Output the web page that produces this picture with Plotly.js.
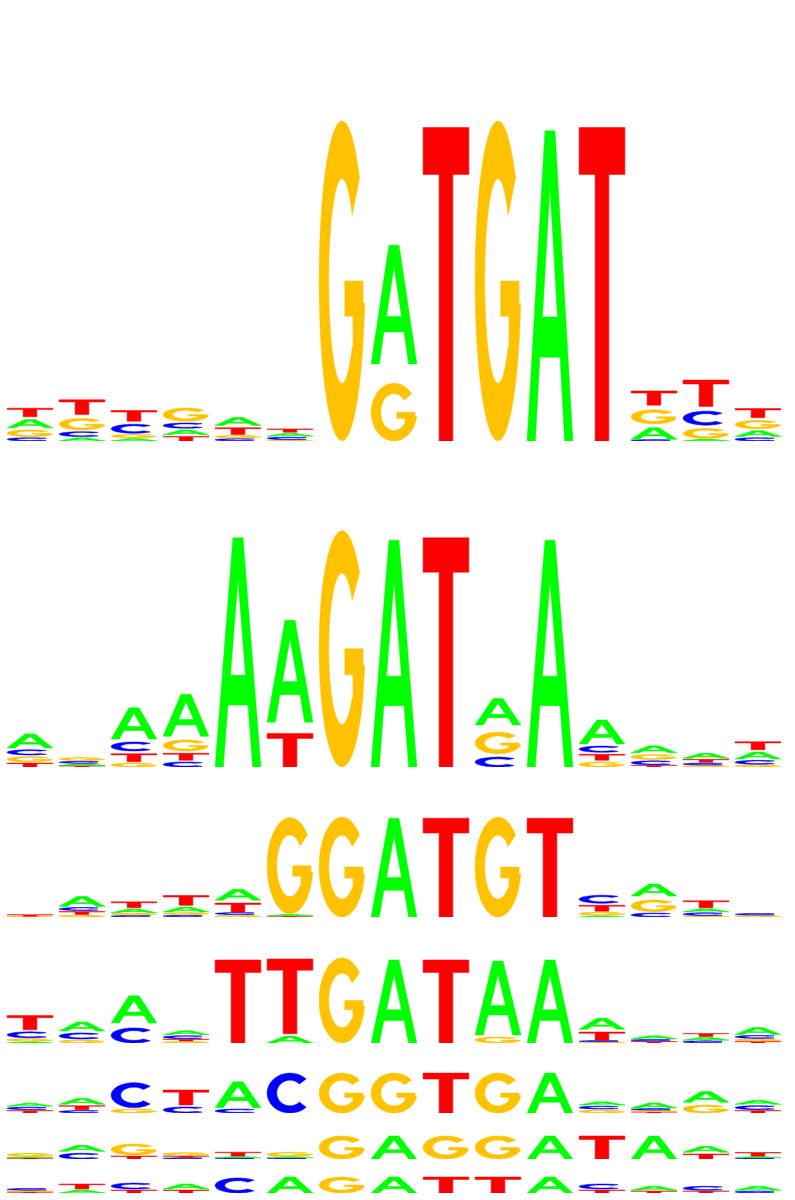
<!DOCTYPE html>
<html>
<head>
<meta charset="utf-8">
<script src="https://cdn.plot.ly/plotly-3.0.1.min.js"></script>
<style>
  html, body { margin: 0; padding: 0; background: #ffffff; }
  #logo { width: 795px; height: 1200px; }
</style>
</head>
<body>
<div id="logo"></div>
<script>
// motif positions (15 columns per row)
const positions = [1, 2, 3, 4, 5, 6, 7, 8, 9, 10, 11, 12, 13, 14, 15];
const letters = ['A', 'C', 'G', 'T'];

// visible letter heights in bits, one small table per motif row
const row1 = {
    A: [0.05, 0.02, 0.015, 0.03, 0.048, 0.018, 0, 0.72, 0, 0, 1.88, 0, 0.07, 0.012, 0.036],
    C: [0.02, 0.03, 0.055, 0.032, 0.014, 0.016, 0, 0, 0, 0, 0, 0, 0.008, 0.085, 0.02],
    G: [0.04, 0.07, 0.02, 0.08, 0.015, 0.006, 1.94, 0.35, 0, 1.94, 0, 0, 0.085, 0.06, 0.05],
    T: [0.052, 0.09, 0.065, 0.028, 0.042, 0.02, 0, 0, 1.9, 0, 0, 1.9, 0.086, 0.16, 0.055]
};
const row2 = {
    A: [0.117, 0.013, 0.26, 0.35, 1.91, 0.85, 0, 1.89, 0, 0.22, 1.89, 0.2, 0.058, 0.042, 0.058],
    C: [0.044, 0.017, 0.075, 0.042, 0, 0, 0, 0, 0, 0.083, 0, 0.052, 0.033, 0.017, 0.033],
    G: [0.042, 0.025, 0.033, 0.092, 0, 0, 1.97, 0, 0, 0.18, 0, 0.042, 0.042, 0.012, 0.017],
    T: [0.033, 0.01, 0.067, 0.058, 0, 0.28, 0, 0, 1.91, 0, 0, 0.05, 0.014, 0.025, 0.067]
};
const row3 = {
    A: [0, 0.19, 0.07, 0.095, 0.21, 0.03, 0, 1.9, 0, 0, 0, 0.025, 0.23, 0.058, 0],
    C: [0, 0.06, 0.03, 0.035, 0.038, 0, 0, 0, 0, 0, 0, 0.155, 0.077, 0.055, 0.03],
    G: [0.01, 0.035, 0.032, 0.038, 0.035, 1.85, 1.92, 0, 0, 1.92, 0, 0.058, 0.225, 0.02, 0.028],
    T: [0.03, 0.058, 0.115, 0.19, 0.17, 0.015, 0, 0, 1.9, 0, 1.9, 0.115, 0, 0.135, 0]
};
const row4 = {
    A: [0.03, 0.21, 0.63, 0.093, 0, 0.16, 0, 1.93, 0, 1.72, 1.93, 0.26, 0.07, 0.065, 0.16],
    C: [0.14, 0.14, 0.35, 0.07, 0, 0, 0, 0, 0, 0, 0, 0.025, 0.037, 0.05, 0.07],
    G: [0.06, 0.07, 0, 0.035, 0, 0, 1.98, 0, 0, 0.14, 0, 0.023, 0, 0, 0.045],
    T: [0.33, 0, 0, 0.04, 1.93, 1.74, 0, 0, 1.93, 0, 0, 0.19, 0.035, 0.07, 0.035]
};
const row5 = {
    A: [0.14, 0.29, 0, 0, 1.24, 0, 0, 0, 0, 0, 1.9, 0.15, 0.24, 0.52, 0.195],
    C: [0.125, 0.12, 1.19, 0.29, 0.19, 1.9, 0, 0, 0, 0, 0, 0.145, 0.07, 0, 0.19],
    G: [0, 0, 0.19, 0, 0, 0, 1.9, 1.9, 0, 1.9, 0, 0.14, 0.055, 0.38, 0],
    T: [0.12, 0.19, 0, 0.71, 0, 0, 0, 0, 1.9, 0, 0, 0, 0.05, 0, 0.12]
};
const row6 = {
    A: [0.085, 0.5, 0, 0, 0.1, 0.09, 0, 1.92, 0, 0, 1.92, 0, 1.92, 0.5, 0.1],
    C: [0, 0.48, 0, 0.1, 0.08, 0.08, 0, 0, 0, 0, 0, 0, 0, 0, 0.08],
    G: [0.25, 0, 0.92, 0.25, 0, 0.33, 1.92, 0, 1.92, 1.92, 0, 0, 0, 0, 0],
    T: [0.08, 0, 0.25, 0.11, 0.33, 0, 0, 0, 0, 0, 0, 1.92, 0, 0.42, 0.3]
};
const row7 = {
    A: [0, 0.35, 0, 0.59, 0, 1.88, 0, 1.88, 0, 0, 1.88, 0, 0.47, 0, 0.47],
    C: [0.2, 0, 0.7, 0, 1.76, 0, 0, 0, 0, 0, 0, 0.59, 0, 0.47, 0.24],
    G: [0.13, 0, 0, 0, 0, 0, 1.88, 0, 0, 0, 0, 0, 0, 0, 0],
    T: [0.12, 0.59, 0.35, 0.35, 0, 0, 0, 0, 1.88, 1.88, 0, 0.35, 0.24, 0.24, 0]
};

const rows = [row1, row2, row3, row4, row5, row6, row7];

// page layout of the rows: baseline (px from top) and pixel height of 2 bits
const rowBase = [441, 767, 917, 1043, 1113, 1159, 1193];
const rowHeight = [330, 240, 104, 86, 42, 24, 17];
const pageH = 1200;
// a glyph fills the lower part of its slot, the rest is blank space above it
const glyphFill = 0.75;

const letterColors = {A: '#00ff00', C: '#0000ff', G: '#ffc200', T: '#ff0000'};

// glyph outlines in a unit box
function arc(rx, ry, a0, a1, n){
    const pts = [];
    for(let k = 0; k <= n; k++){
        const a = (a0 + (a1 - a0) * k / n) * Math.PI / 180;
        pts.push([0.5 + rx * Math.cos(a), 0.5 + ry * Math.sin(a)]);
    }
    return pts;
}
const glyphs = {
    A: [
        [[0, 0], [0.39, 1], [0.61, 1], [1, 0], [0.82, 0], [0.72, 0.27], [0.28, 0.27], [0.18, 0]],
        [[0.336, 0.40], [0.5, 0.82], [0.664, 0.40]]
    ],
    T: [
        [[0, 1], [1, 1], [1, 0.85], [0.65, 0.85], [0.65, 0], [0.35, 0], [0.35, 0.85], [0, 0.85]]
    ],
    C: [
        arc(0.5, 0.5, 45, 315, 48).concat(arc(0.29, 0.32, 315, 45, 48))
    ],
    G: [
        arc(0.5, 0.5, 40, 352, 48)
            .concat([[0.96, 0.43], [0.96, 0.5], [0.56, 0.5], [0.56, 0.39], [0.74, 0.39], [0.74, 0.3]])
            .concat(arc(0.29, 0.32, 318, 40, 48))
    ]
};

function glyphPath(letter, x0, x1, y0, y1){
    return glyphs[letter].map(ring => 'M' + ring.map(p =>
        (x0 + p[0] * (x1 - x0)).toFixed(4) + ',' + (y0 + p[1] * (y1 - y0)).toFixed(5)
    ).join('L') + 'Z').join(' ');
}

document.addEventListener("DOMContentLoaded", function(){
    const halfW = 0.44;
    let shapes = [];
    let traces = [];
    let layout = {
        width: 795,
        height: 1200,
        margin: {l: 0, r: 0, t: 0, b: 0, pad: 0},
        paper_bgcolor: '#ffffff',
        plot_bgcolor: '#ffffff',
        showlegend: false,
        xaxis: {range: [0.423, 15.712], visible: false, fixedrange: true}
    };

    rows.forEach((row, r) => {
        const axisName = r == 0 ? 'yaxis' : 'yaxis' + (r + 1);
        const yref = r == 0 ? 'y' : 'y' + (r + 1);
        const bottom = (pageH - rowBase[r]) / pageH;
        const top = (pageH - rowBase[r] + rowHeight[r]) / pageH;
        layout[axisName] = {domain: [bottom, top], range: [0, 2], visible: false, anchor: 'x', fixedrange: true};

        // invisible trace so every row axis exists
        traces.push({
            type: 'scatter', mode: 'markers', x: positions, y: positions.map(() => 0),
            yaxis: yref, marker: {opacity: 0}, hoverinfo: 'skip', showlegend: false
        });

        positions.forEach((pos, i) => {
            const stack = letters
                .map(l => ({l: l, v: row[l][i]}))
                .filter(d => d.v > 0.001)
                .sort((a, b) => a.v - b.v);
            let y0 = 0;
            stack.forEach(d => {
                shapes.push({
                    type: 'path', xref: 'x', yref: yref, layer: 'above',
                    path: glyphPath(d.l, pos - halfW, pos + halfW, y0, y0 + d.v),
                    fillcolor: letterColors[d.l],
                    line: {color: letterColors[d.l], width: 0.5}
                });
                y0 += d.v / glyphFill;
            });
        });
    });

    layout.shapes = shapes;
    Plotly.newPlot('logo', traces, layout, {displayModeBar: false, staticPlot: true});
});
</script>
</body>
</html>
